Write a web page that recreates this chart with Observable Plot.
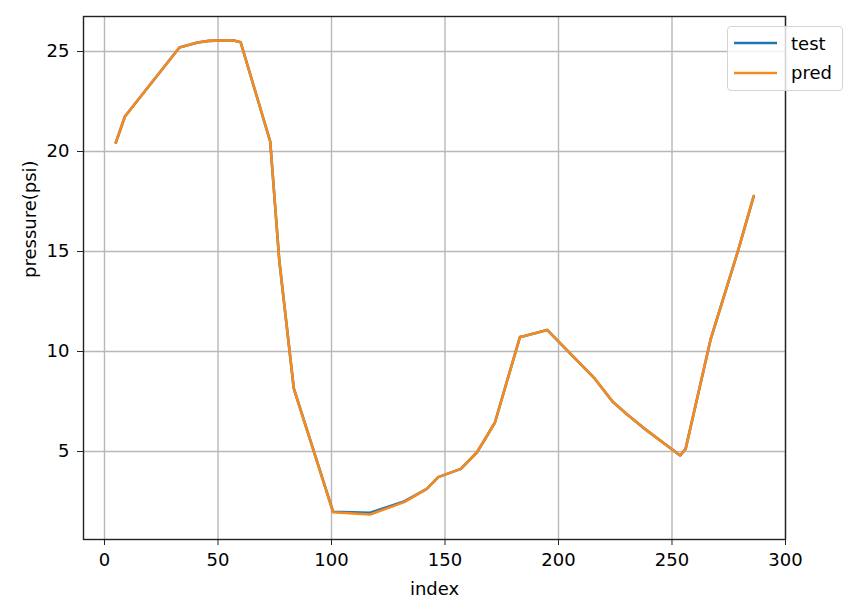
<!DOCTYPE html>
<html><head><meta charset="utf-8">
<script src="https://cdn.jsdelivr.net/npm/d3@7"></script>
<script src="https://cdn.jsdelivr.net/npm/@observablehq/plot@0.6"></script>
<style>
body{margin:0;background:#fff;font-family:"DejaVu Sans",sans-serif}
#chart{position:relative;width:861px;height:616px}
.legend{position:absolute;left:727px;top:26px;width:116px;height:65px;box-sizing:border-box;border:1px solid #d4d4d4;border-radius:4px;background:rgba(255,255,255,0.8);font-size:18px;color:#000}
.legend .row{position:absolute;left:6px;height:20px;display:flex;align-items:center}
.legend .row span{margin-left:14px}
</style></head><body><div id="chart"></div>
<script>
const index = [5, 9, 33, 41, 46, 55, 57, 60, 73, 77, 83.4, 100.7, 117, 132, 142, 147, 157, 164, 167, 172, 183, 185, 195, 216, 224, 230, 237, 253.6, 256, 267, 279, 286];
const test  = [20.45, 21.75, 25.2, 25.45, 25.53, 25.56, 25.55, 25.46, 20.5, 14.55, 8.15, 1.99, 1.94, 2.5, 3.13, 3.72, 4.13, 4.95, 5.5, 6.45, 10.72, 10.77, 11.08, 8.64, 7.47, 6.88, 6.22, 4.8, 5.13, 10.6, 15.0, 17.77];
const pred  = [20.45, 21.75, 25.2, 25.45, 25.53, 25.56, 25.55, 25.46, 20.5, 14.55, 8.15, 1.96, 1.85, 2.47, 3.13, 3.72, 4.13, 4.95, 5.5, 6.45, 10.72, 10.77, 11.08, 8.64, 7.47, 6.88, 6.22, 4.8, 5.13, 10.6, 15.0, 17.77];
const seriesNames = ["test", "pred"];
const seriesColors = ["#1f77b4", "#f58a1f"];
const xTicks = [0, 50, 100, 150, 200, 250, 300];
const yTicks = [5, 10, 15, 20, 25];
const xLabel = "index";
const yLabel = "pressure(psi)";

const seriesValues = [test, pred];
const rows = seriesNames.flatMap((name, k) => index.map((x, j) => ({series: name, index: x, value: seriesValues[k][j]})));

const plot = Plot.plot({
  width: 861, height: 616,
  marginLeft: 83, marginRight: 76, marginTop: 16, marginBottom: 77,
  style: {fontFamily: "DejaVu Sans", fontSize: "18px", color: "#000", background: "#fff", overflow: "visible"},
  x: {domain: [-9.25, 300], label: null},
  y: {domain: [0.6, 26.75], label: null},
  color: {domain: seriesNames, range: seriesColors},
  marks: [
    Plot.gridX(xTicks, {stroke: "#b8b8b8", strokeOpacity: 1, strokeWidth: 1.4}),
    Plot.gridY(yTicks, {stroke: "#b8b8b8", strokeOpacity: 1, strokeWidth: 1.4}),
    Plot.line(rows, {x: "index", y: "value", z: "series", stroke: "series", strokeWidth: 2.6}),
    Plot.frame({stroke: "#222", strokeWidth: 1.4}),
    Plot.axisX(xTicks, {tickSize: 6, tickPadding: 8, fontSize: 18, label: null, stroke: "#222"}),
    Plot.axisY(yTicks, {tickSize: 6, tickPadding: 8, fontSize: 18, label: null, stroke: "#222"}),
    Plot.text([xLabel], {frameAnchor: "bottom", dy: 50, lineAnchor: "middle", fontSize: 18, fill: "#000"}),
    Plot.text([yLabel], {frameAnchor: "left", dx: -53, rotate: -90, lineAnchor: "middle", fontSize: 18, fill: "#000"})
  ]
});
const chart = document.getElementById("chart");
chart.appendChild(plot);

const legend = document.createElement("div");
legend.className = "legend";
seriesNames.forEach((name, k) => {
  const row = document.createElement("div");
  row.className = "row";
  row.style.top = (6 + k * 29.5) + "px";
  row.innerHTML = `<svg width="43" height="4"><line x1="0" x2="43" y1="2" y2="2" stroke="${seriesColors[k]}" stroke-width="2.6"/></svg><span>${name}</span>`;
  legend.appendChild(row);
});
chart.appendChild(legend);
</script>
</body></html>
